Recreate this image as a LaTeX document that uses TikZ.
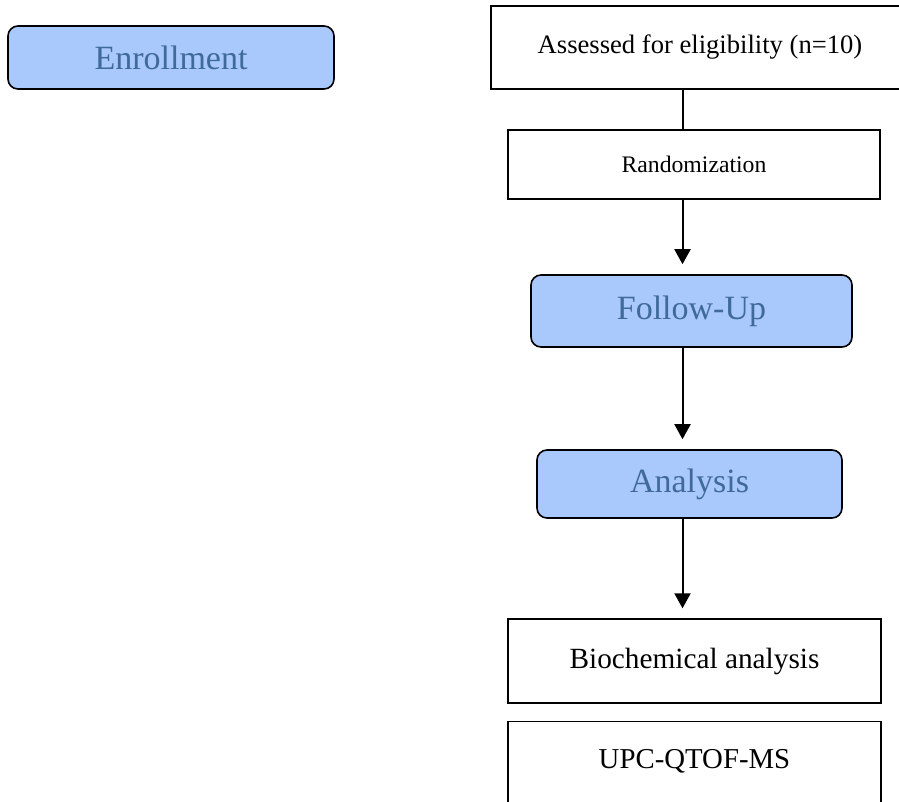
\documentclass[tikz,border=0pt]{standalone}
\usepackage{fontspec}
\setmainfont{Liberation Serif}
\usetikzlibrary{arrows.meta}
\definecolor{phasefill}{rgb}{0.663,0.784,0.984}
\definecolor{phasetext}{rgb}{0.247,0.416,0.604}

\begin{document}
\begin{tikzpicture}[x=1pt, y=-1pt, >={Triangle[length=15pt, width=16pt]},
    phase/.style={draw=black, line width=1.6pt, fill=phasefill, rounded corners=10pt, text=phasetext, font=\fontsize{34}{40}\selectfont, inner sep=0pt},
    stepbox/.style={draw=black, line width=1.4pt, inner sep=0pt},
    link/.style={line width=2pt},
    flow/.style={link, ->, shorten >=10pt}]
    \useasboundingbox (0,0) rectangle (899,801);
    \coordinate (spine) at (682.5,0);
    \node[phase, minimum width=326pt, minimum height=63pt] (enroll) at (171,57.5) {Enrollment};
    \node[stepbox, minimum width=418pt, minimum height=83pt, font=\fontsize{26.6}{30}\selectfont] (assess) at (700,47.5) {Assessed for eligibility (n=10)};
    \node[stepbox, minimum width=372pt, minimum height=69pt, font=\fontsize{23.7}{28}\selectfont] (rand) at (694,164.5) {Randomization};
    \node[phase, minimum width=321pt, minimum height=72pt] (follow) at (691.5,311) {Follow-Up};
    \node[phase, minimum width=305pt, minimum height=68pt] (analysis) at (689.5,484) {Analysis};
    \node[stepbox, minimum width=373pt, minimum height=84pt, font=\fontsize{29.3}{34}\selectfont] (biochem) at (694.5,661) {Biochemical analysis};
    \node[stepbox, minimum width=373pt, text height=47pt, text depth=50pt, anchor=north, font=\fontsize{28.8}{34}\selectfont] (upc) at (694.5,721) {UPC-QTOF-MS};
    \draw[link] (assess.south -| spine) -- (rand.north -| spine);
    \draw[flow] (rand.south -| spine) -- (follow.north -| spine);
    \draw[flow] (follow.south -| spine) -- (analysis.north -| spine);
    \draw[flow] (analysis.south -| spine) -- (biochem.north -| spine);
\end{tikzpicture}
\end{document}
